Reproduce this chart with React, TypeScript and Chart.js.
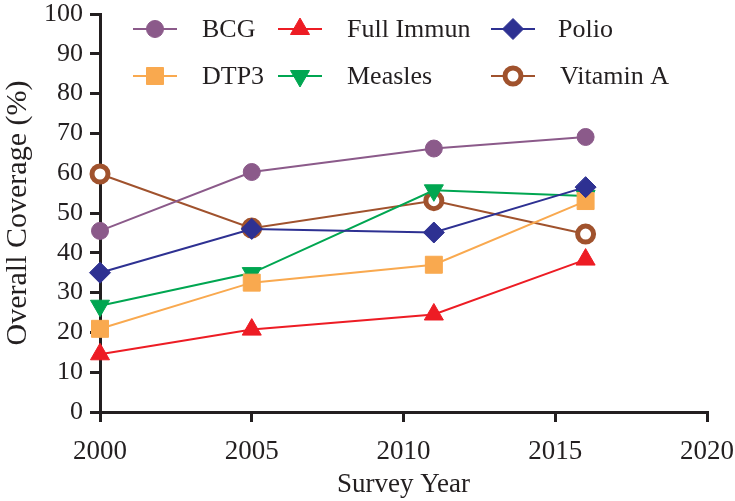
import React, { useEffect, useRef } from 'react';
import { Chart, registerables } from 'chart.js';
import { drawPoint } from 'chart.js/helpers';

Chart.register(...registerables);

const years = [2000, 2005, 2011, 2016];
const bcg = [45.5, 60.3, 66.2, 69.1];
const fullImmun = [14.5, 20.7, 24.5, 38.3];
const polio = [35.0, 46.0, 45.1, 56.5];
const dtp3 = [20.9, 32.5, 37.0, 53.0];
const measles = [26.7, 34.9, 55.7, 54.3];
const vitaminA = [59.8, 46.2, 53.1, 44.7];
const seriesNames = ['BCG', 'Full Immun', 'Polio', 'DTP3', 'Measles', 'Vitamin A'];
const xTicks = [2000, 2005, 2010, 2015, 2020];
const yTicks = [0, 10, 20, 30, 40, 50, 60, 70, 80, 90, 100];

const FONT = "'Liberation Serif', 'Times New Roman', serif";
const INK = '#231f20';

const styles = [
  { color: '#8b5a8a', fill: '#8b5a8a', style: 'circle', radius: 8.5, rotation: 0, bw: 1 },
  { color: '#ed1c24', fill: '#ed1c24', style: 'triangle', radius: 11, rotation: 0, bw: 1 },
  { color: '#2e3192', fill: '#2e3192', style: 'rectRot', radius: 10.5, rotation: 0, bw: 1 },
  { color: '#f9a94f', fill: '#f9a94f', style: 'rect', radius: 12, rotation: 0, bw: 1 },
  { color: '#00a651', fill: '#00a651', style: 'triangle', radius: 11, rotation: 180, bw: 1 },
  { color: '#a0522d', fill: '#ffffff', style: 'circle', radius: 8, rotation: 0, bw: 5 },
];

const legendPlugin = {
  id: 'customLegend',
  afterDraw(chart: any) {
    const ctx = chart.ctx;
    const markerXs = [155, 300, 513];
    const textXs = [202, 347, 558];
    const rowYs = [29, 76];
    ctx.save();
    chart.data.datasets.forEach((ds: any, i: number) => {
      const col = i % 3;
      const row = Math.floor(i / 3);
      const cx = markerXs[col];
      const cy = rowYs[row];
      const s = styles[i];
      ctx.strokeStyle = s.color;
      ctx.lineWidth = 2;
      ctx.beginPath();
      ctx.moveTo(cx - 22, cy);
      ctx.lineTo(cx + 22, cy);
      ctx.stroke();
      ctx.fillStyle = s.fill;
      ctx.strokeStyle = s.color;
      ctx.lineWidth = s.bw;
      drawPoint(ctx, { pointStyle: s.style, radius: s.radius, rotation: s.rotation, borderWidth: s.bw } as any, cx, cy);
      ctx.fillStyle = INK;
      ctx.font = `26px ${FONT}`;
      ctx.textAlign = 'left';
      ctx.textBaseline = 'middle';
      const tx = textXs[col] + (i === 5 ? 2 : 0);
      ctx.fillText(ds.label, tx, cy + 1);
    });
    ctx.restore();
  },
};

export default function App() {
  const ref = useRef<HTMLCanvasElement | null>(null);
  useEffect(() => {
    if (!ref.current) return;
    const allSeries = [bcg, fullImmun, polio, dtp3, measles, vitaminA];
    const chart = new Chart(ref.current, {
      type: 'line',
      data: {
        datasets: allSeries.map((vals, i) => ({
          label: seriesNames[i],
          data: vals.map((v, j) => ({ x: years[j], y: v })),
          borderColor: styles[i].color,
          backgroundColor: styles[i].fill,
          borderWidth: 2,
          pointStyle: styles[i].style as any,
          pointRadius: styles[i].radius,
          pointRotation: styles[i].rotation,
          pointBackgroundColor: styles[i].fill,
          pointBorderColor: styles[i].color,
          pointBorderWidth: styles[i].bw,
          tension: 0,
          fill: false,
          clip: false as any,
        })),
      },
      options: {
        animation: false,
        responsive: true,
        maintainAspectRatio: false,
        layout: { padding: { top: 14, right: 28, left: 0, bottom: 0 } },
        plugins: { legend: { display: false }, tooltip: { enabled: false } },
        scales: {
          x: {
            type: 'linear',
            min: 2000,
            max: 2020,
            afterBuildTicks: (scale: any) => {
              scale.ticks = xTicks.map((v) => ({ value: v }));
            },
            afterFit: (scale: any) => {
              scale.height = 89;
              scale.paddingLeft = 0;
              scale.paddingRight = 0;
            },
            ticks: {
              color: INK,
              font: { family: FONT, size: 27 },
              padding: 14,
              maxRotation: 0,
              callback: (v: any) => String(v),
            },
            grid: { display: true, drawOnChartArea: false, drawTicks: true, tickLength: 10, lineWidth: 3, color: INK },
            border: { display: true, width: 3, color: INK },
            title: {
              display: true,
              text: 'Survey Year',
              color: INK,
              font: { family: FONT, size: 27 },
              padding: { top: 0, bottom: 0 },
            },
          },
          y: {
            min: 0,
            max: 100,
            afterBuildTicks: (scale: any) => {
              scale.ticks = yTicks.map((v) => ({ value: v }));
            },
            afterFit: (scale: any) => {
              scale.width = 100;
              scale.paddingTop = 0;
              scale.paddingBottom = 0;
            },
            ticks: {
              color: INK,
              font: { family: FONT, size: 26, lineHeight: 1 },
              padding: 7,
            },
            grid: { display: true, drawOnChartArea: false, drawTicks: true, tickLength: 10, lineWidth: 3, color: INK },
            border: { display: true, width: 3, color: INK },
            title: {
              display: true,
              text: 'Overall Coverage (%)',
              color: INK,
              font: { family: FONT, size: 30 },
              padding: { top: 0, bottom: 0 },
            },
          },
        },
      },
      plugins: [legendPlugin],
    });
    return () => chart.destroy();
  }, []);
  return (
    <div style={{ position: 'absolute', left: 0, top: 0, width: 735, height: 501, background: '#fff' }}>
      <canvas ref={ref} />
    </div>
  );
}
